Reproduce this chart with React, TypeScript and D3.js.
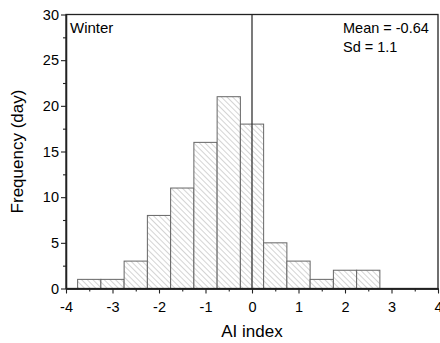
import { useEffect, useRef } from "react";
import * as d3 from "d3";

// bin centres (width 0.5) and day counts
const binCenters = [-3.5, -3, -2.5, -2, -1.5, -1, -0.5, 0, 0.5, 1, 1.5, 2, 2.5];
const counts = [1, 1, 3, 8, 11, 16, 21, 18, 5, 3, 1, 2, 2];
const binWidth = 0.5;

const xTicks = [-4, -3, -2, -1, 0, 1, 2, 3, 4];
const yTicks = [0, 5, 10, 15, 20, 25, 30];

const seasonLabel = "Winter";
const statsLabels = ["Mean = -0.64", "Sd = 1.1"];

const FONT = "'Liberation Sans', Arial, Helvetica, sans-serif";

const App = () => {
  const ref = useRef<SVGSVGElement | null>(null);

  useEffect(() => {
    if (!ref.current) return;
    const svg = d3.select(ref.current);
    svg.selectAll("*").remove();

    const W = 440;
    const H = 343;
    const margin = { top: 14.5, right: 2, bottom: 54.5, left: 66 };
    const width = W - margin.left - margin.right;
    const height = H - margin.top - margin.bottom;

    // hatch pattern for the bars ("\\\\" direction)
    const defs = svg.append("defs");
    const pat = defs
      .append("pattern")
      .attr("id", "hatch")
      .attr("patternUnits", "userSpaceOnUse")
      .attr("width", 4)
      .attr("height", 4)
      .attr("patternTransform", "rotate(45)");
    pat.append("rect").attr("width", 4).attr("height", 4).attr("fill", "#fff");
    pat
      .append("line")
      .attr("x1", 0)
      .attr("y1", 0)
      .attr("x2", 4)
      .attr("y2", 0)
      .attr("stroke", "#a0a0a0")
      .attr("stroke-width", 0.9);

    const g = svg.append("g").attr("transform", `translate(${margin.left},${margin.top})`);

    const x = d3.scaleLinear().domain([-4, 4]).range([0, width]);
    const y = d3.scaleLinear().domain([0, 30]).range([height, 0]);

    // bars
    g.selectAll(".bar")
      .data(binCenters.map((c, i) => ({ c, n: counts[i] })))
      .enter()
      .append("rect")
      .attr("x", (d) => x(d.c - binWidth / 2))
      .attr("y", (d) => y(d.n))
      .attr("width", (d) => x(d.c + binWidth / 2) - x(d.c - binWidth / 2))
      .attr("height", (d) => height - y(d.n))
      .attr("fill", "url(#hatch)")
      .attr("stroke", "#666")
      .attr("stroke-width", 1);

    // vertical line at zero
    g.append("line")
      .attr("x1", x(0))
      .attr("x2", x(0))
      .attr("y1", 0)
      .attr("y2", height)
      .attr("stroke", "#333")
      .attr("stroke-width", 1.3);

    // frame
    g.append("rect")
      .attr("x", 0)
      .attr("y", 0)
      .attr("width", width)
      .attr("height", height)
      .attr("fill", "none")
      .attr("stroke", "#222")
      .attr("stroke-width", 1.3);

    // axes
    const xAxis = g
      .append("g")
      .attr("transform", `translate(0,${height})`)
      .call(d3.axisBottom(x).tickValues(xTicks).tickSize(5).tickSizeOuter(0).tickFormat((d) => String(d)));
    g.append("g")
      .attr("transform", `translate(0,${height})`)
      .call(
        d3
          .axisBottom(x)
          .tickValues(xTicks.slice(0, -1).map((t) => t + 0.5))
          .tickSize(3)
          .tickSizeOuter(0)
          .tickFormat(() => "")
      );
    const yAxis = g
      .append("g")
      .call(d3.axisLeft(y).tickValues(yTicks).tickSize(5).tickSizeOuter(0).tickFormat((d) => String(d)));
    g.append("g").call(
      d3
        .axisLeft(y)
        .tickValues(yTicks.slice(0, -1).map((t) => t + 2.5))
        .tickSize(3)
        .tickSizeOuter(0)
        .tickFormat(() => "")
    );

    g.selectAll(".domain").attr("stroke", "#222").attr("stroke-width", 1.3);
    g.selectAll(".tick line").attr("stroke", "#222").attr("stroke-width", 1.1);

    xAxis
      .selectAll("text")
      .attr("dy", "0.71em")
      .attr("y", 13)
      .style("font-family", FONT)
      .style("font-size", "14.5px")
      .style("fill", "#000");
    yAxis
      .selectAll("text")
      .attr("x", -7)
      .style("font-family", FONT)
      .style("font-size", "14.5px")
      .style("fill", "#000");

    // axis titles
    g.append("text")
      .attr("x", x(0))
      .attr("y", height + 48)
      .attr("text-anchor", "middle")
      .style("font-family", FONT)
      .style("font-size", "17px")
      .text("AI index");

    g.append("text")
      .attr("transform", "rotate(-90)")
      .attr("x", -height / 2)
      .attr("y", -43)
      .attr("text-anchor", "middle")
      .style("font-family", FONT)
      .style("font-size", "17px")
      .text("Frequency (day)");

    // annotations
    g.append("text")
      .attr("x", 4)
      .attr("y", 18.5)
      .style("font-family", FONT)
      .style("font-size", "15px")
      .text(seasonLabel);

    statsLabels.forEach((s, i) => {
      g.append("text")
        .attr("x", 277)
        .attr("y", 18.5 + i * 19)
        .style("font-family", FONT)
        .style("font-size", "14.5px")
        .text(s);
    });
  }, []);

  return (
    <svg
      ref={ref}
      width={440}
      height={343}
      style={{ position: "absolute", left: 0, top: 0, background: "#fff" }}
    />
  );
};

export default App;
